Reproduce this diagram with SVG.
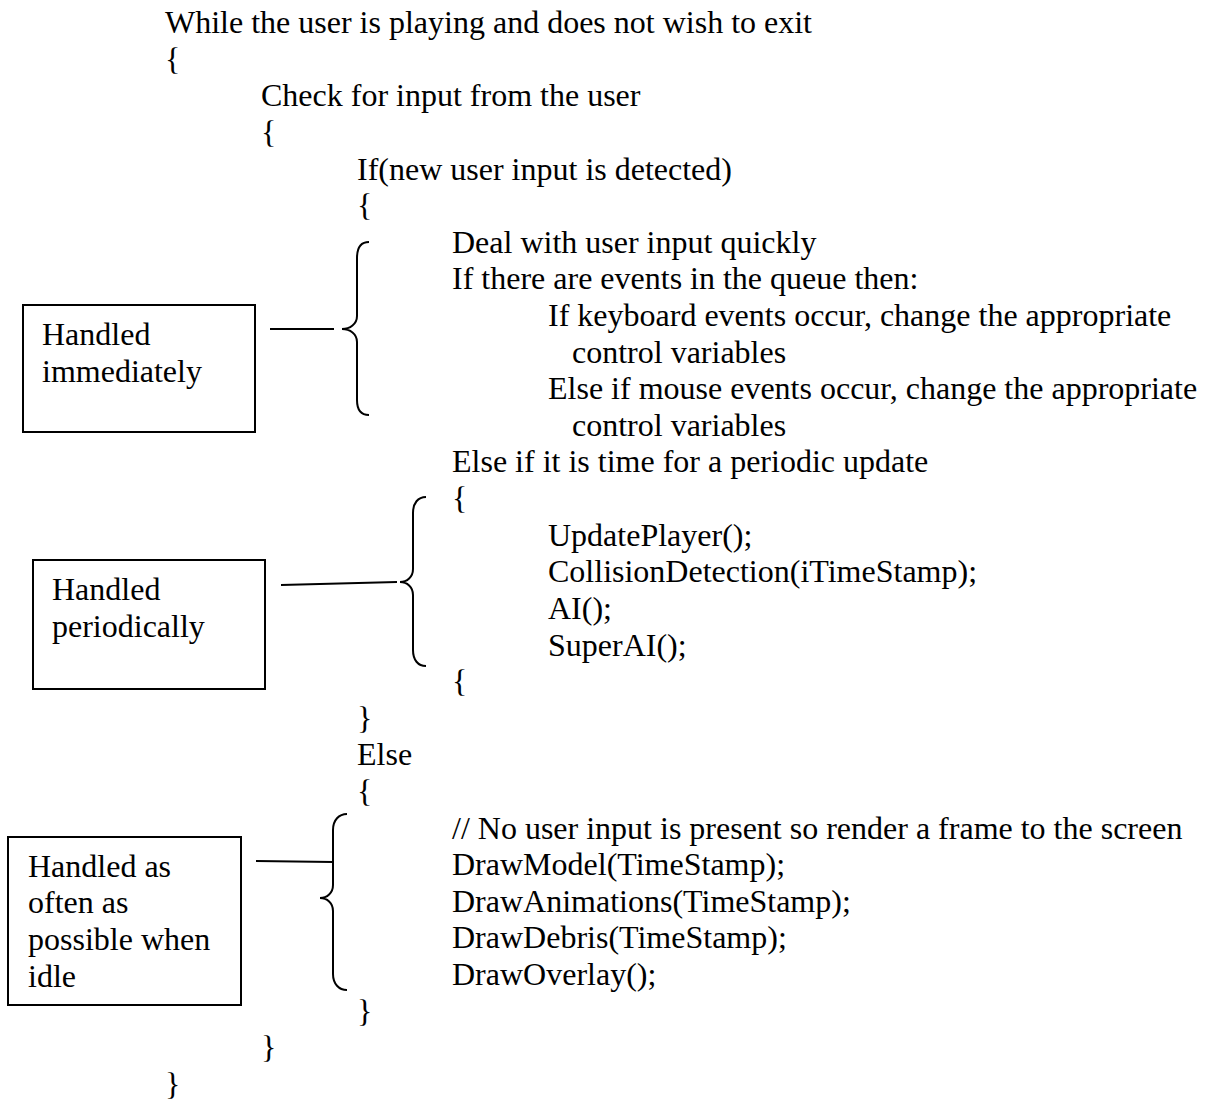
<svg xmlns="http://www.w3.org/2000/svg" width="1210" height="1104" viewBox="0 0 1210 1104">
<style>
text{font-family:"Liberation Serif","Times New Roman",serif;font-size:32px;fill:#000}
.box{fill:#fff;stroke:#000;stroke-width:2}
.ln{fill:none;stroke:#000;stroke-width:2}
</style>
<rect width="1210" height="1104" fill="#fff"/>
<g id="code">
<text x="165" y="33">While the user is playing and does not wish to exit</text>
<text x="165" y="69.6">{</text>
<text x="261" y="106.2">Check for input from the user</text>
<text x="261" y="142.9">{</text>
<text x="357" y="179.5">If(new user input is detected)</text>
<text x="357" y="216.1">{</text>
<text x="452" y="252.7">Deal with user input quickly</text>
<text x="452" y="289.3">If there are events in the queue then:</text>
<text x="548" y="325.9">If keyboard events occur, change the appropriate</text>
<text x="572" y="362.6">control variables</text>
<text x="548" y="399.2">Else if mouse events occur, change the appropriate</text>
<text x="572" y="435.8">control variables</text>
<text x="452" y="472.4">Else if it is time for a periodic update</text>
<text x="452" y="509">{</text>
<text x="548" y="545.6">UpdatePlayer();</text>
<text x="548" y="582.3">CollisionDetection(iTimeStamp);</text>
<text x="548" y="618.9">AI();</text>
<text x="548" y="655.5">SuperAI();</text>
<text x="452" y="692.1">{</text>
<text x="357" y="728.7">}</text>
<text x="357" y="765.3">Else</text>
<text x="357" y="802">{</text>
<text x="452" y="838.6">// No user input is present so render a frame to the screen</text>
<text x="452" y="875.2">DrawModel(TimeStamp);</text>
<text x="452" y="911.8">DrawAnimations(TimeStamp);</text>
<text x="452" y="948.4">DrawDebris(TimeStamp);</text>
<text x="452" y="985">DrawOverlay();</text>
<text x="357" y="1021.7">}</text>
<text x="261" y="1058.3">}</text>
<text x="165" y="1094.9">}</text>
</g>
<g id="node-immediate">
<rect class="box" x="23" y="305" width="232" height="127"/>
<text x="42" y="345">Handled</text>
<text x="42" y="381.7">immediately</text>
</g>
<g id="node-periodic">
<rect class="box" x="33" y="560" width="232" height="129"/>
<text x="52" y="600">Handled</text>
<text x="52" y="636.5">periodically</text>
</g>
<g id="node-idle">
<rect class="box" x="8" y="837" width="233" height="168"/>
<text x="28" y="876.7">Handled as</text>
<text x="28" y="913.3">often as</text>
<text x="28" y="950">possible when</text>
<text x="28" y="986.7">idle</text>
</g>
<g id="connectors">
<line class="ln" x1="270" y1="329" x2="334" y2="329"/>
<path class="ln" d="M369 242 C361 242 357 248 357 258 L357 316 C357 324 350 329 342 329 C350 329 357 334 357 342 L357 400 C357 410 361 415 369 415"/>
<path class="ln" d="M281 585 L397 582"/>
<path class="ln" d="M426 497 C418 497 413 503 413 513 L413 569 C413 577 407 582 400 582 C407 582 413 587 413 595 L413 650 C413 660 418 666 426 666"/>
<path class="ln" d="M256 861 L333 862"/>
<path class="ln" d="M347 814 C339 814 333 820 333 830 L333 885 C333 893 327 898 320 898 C327 898 333 903 333 911 L333 974 C333 984 339 990 347 990"/>
</g>
</svg>
